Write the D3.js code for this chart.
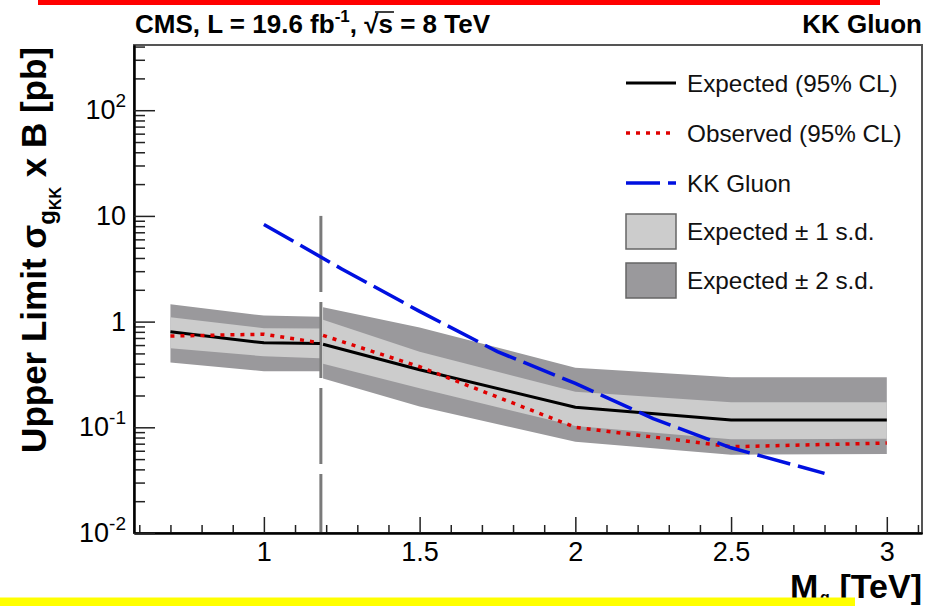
<!DOCTYPE html>
<html>
<head>
<meta charset="utf-8">
<script src="https://cdn.jsdelivr.net/npm/d3@7/dist/d3.min.js"></script>
<style>
  html, body { margin: 0; padding: 0; background: #ffffff; }
  svg { display: block; font-family: "Liberation Sans", Arial, Helvetica, sans-serif; }
</style>
</head>
<body>
<svg id="chart" width="940" height="606"></svg>
<script>
// ---- data: 95% CL limits on sigma(g_KK) x B, in pb, vs mass in TeV ----
// low-mass analysis
const massLow   = [0.70, 1.00, 1.18];
const expLow    = [0.80, 0.63, 0.62];
const obsLow    = [0.73, 0.76, 0.63];
const sig1LoLow = [0.56, 0.47, 0.45];
const sig1HiLow = [1.10, 0.865, 0.86];
const sig2LoLow = [0.41, 0.34, 0.34];
const sig2HiLow = [1.46, 1.14, 1.11];

// high-mass analysis
const massHigh   = [1.19, 1.50, 2.00, 2.50, 3.00];
const expHigh    = [0.61, 0.35, 0.155, 0.117, 0.117];
const obsHigh    = [0.74, 0.374, 0.100, 0.0655, 0.071];
const sig1LoHigh = [0.40, 0.234, 0.103, 0.077, 0.078];
const sig1HiHigh = [1.04, 0.52, 0.217, 0.173, 0.173];
const sig2LoHigh = [0.29, 0.157, 0.073, 0.055, 0.056];
const sig2HiHigh = [1.37, 0.88, 0.366, 0.297, 0.297];

// KK gluon theory cross section x B
const massKK = [1.00, 1.25, 1.50, 1.75, 2.00, 2.25, 2.50, 2.80];
const xsecKK = [8.3, 3.15, 1.25, 0.52, 0.26, 0.121, 0.064, 0.0367];

// boundary between the two analyses
const splitMass = [1.183];
const splitTop = [10];

// axis ticks
const xMajor = [1.0, 1.5, 2.0, 2.5, 3.0];
const xMajorLabels = ["1", "1.5", "2", "2.5", "3"];
const yMajor = [0.01, 0.1, 1, 10, 100];
const yMajorLabels = [["10", "-2"], ["10", "-1"], ["1", ""], ["10", ""], ["10", "2"]];

const legendLabels = ["Expected (95% CL)", "Observed (95% CL)", "KK Gluon",
                      "Expected \u00b1 1 s.d.", "Expected \u00b1 2 s.d."];

// ---- layout ----
const svg = d3.select("#chart");
const W = 940, H = 606;
const frame = { left: 134, top: 45, right: 922, bottom: 533 };

const x = d3.scaleLinear().domain([0.583, 3.113]).range([frame.left, frame.right]);
const y = d3.scaleLog().domain([0.01, 414]).range([frame.bottom, frame.top]);

const colors = {
  expected: "#000000",
  observed: "#e00000",
  kk: "#0010e0",
  band1: "#cccccc",
  band2: "#9a999c",
  split: "#7a7a7a"
};

svg.append("rect").attr("width", W).attr("height", H).attr("fill", "#ffffff");

svg.append("clipPath").attr("id", "plotClip")
  .append("rect")
  .attr("x", frame.left).attr("y", frame.top)
  .attr("width", frame.right - frame.left).attr("height", frame.bottom - frame.top);

const plot = svg.append("g").attr("clip-path", "url(#plotClip)");

function zipBand(m, lo, hi) { return m.map((v, i) => ({ m: v, lo: lo[i], hi: hi[i] })); }
function zipLine(m, v) { return m.map((d, i) => ({ m: d, v: v[i] })); }

const area = d3.area().x(d => x(d.m)).y0(d => y(d.lo)).y1(d => y(d.hi));
const line = d3.line().x(d => x(d.m)).y(d => y(d.v));

// ±2 s.d. and ±1 s.d. bands
[[massLow, sig2LoLow, sig2HiLow], [massHigh, sig2LoHigh, sig2HiHigh]].forEach(([m, lo, hi]) => {
  plot.append("path").attr("d", area(zipBand(m, lo, hi))).attr("fill", colors.band2);
});
[[massLow, sig1LoLow, sig1HiLow], [massHigh, sig1LoHigh, sig1HiHigh]].forEach(([m, lo, hi]) => {
  plot.append("path").attr("d", area(zipBand(m, lo, hi))).attr("fill", colors.band1);
});

// vertical dashed separator, dashes counted from its top end
plot.selectAll("line.split").data(splitMass).join("line")
  .attr("class", "split")
  .attr("x1", d => x(d)).attr("x2", d => x(d))
  .attr("y1", (d, i) => y(splitTop[i])).attr("y2", y(0.01))
  .attr("stroke", colors.split).attr("stroke-width", 3)
  .attr("stroke-dasharray", "76,10");

// expected limit
[[massLow, expLow], [massHigh, expHigh]].forEach(([m, v]) => {
  plot.append("path").attr("d", line(zipLine(m, v)))
    .attr("fill", "none").attr("stroke", colors.expected).attr("stroke-width", 3)
    .attr("stroke-linejoin", "round");
});
// observed limit
[[massLow, obsLow], [massHigh, obsHigh]].forEach(([m, v]) => {
  plot.append("path").attr("d", line(zipLine(m, v)))
    .attr("fill", "none").attr("stroke", colors.observed).attr("stroke-width", 3.5)
    .attr("stroke-dasharray", "4,6");
});
// KK gluon prediction
plot.append("path").attr("d", line(zipLine(massKK, xsecKK)))
  .attr("fill", "none").attr("stroke", colors.kk).attr("stroke-width", 3.5)
  .attr("stroke-dasharray", "34,8");

// ---- frame and axes ----
svg.append("rect")
  .attr("x", frame.left).attr("y", frame.top)
  .attr("width", frame.right - frame.left).attr("height", frame.bottom - frame.top)
  .attr("fill", "none").attr("stroke", "#555555").attr("stroke-width", 2);

const xMinor = d3.range(6, 32).map(k => k / 10).filter(v => !xMajor.some(m => Math.abs(m - v) < 1e-6));
const yMinor = [];
[-2, -1, 0, 1, 2].forEach(e => {
  for (let k = 2; k <= 9; k++) {
    const v = k * Math.pow(10, e);
    if (v <= 414) yMinor.push(v);
  }
});

const tickFont = 27;

const gxMinor = svg.append("g").attr("transform", `translate(0,${frame.bottom})`)
  .call(d3.axisBottom(x).tickValues(xMinor).tickSize(-8).tickSizeOuter(0).tickFormat(""));
const gx = svg.append("g").attr("transform", `translate(0,${frame.bottom})`)
  .call(d3.axisBottom(x).tickValues(xMajor).tickSize(-16).tickSizeOuter(0).tickPadding(9)
    .tickFormat((d, i) => xMajorLabels[i]));

const gyMinor = svg.append("g").attr("transform", `translate(${frame.left},0)`)
  .call(d3.axisLeft(y).tickValues(yMinor).tickSize(-11).tickSizeOuter(0).tickFormat(""));
const gy = svg.append("g").attr("transform", `translate(${frame.left},0)`)
  .call(d3.axisLeft(y).tickValues(yMajor).tickSize(-21).tickSizeOuter(0).tickPadding(8)
    .tickFormat(() => ""));

[gxMinor, gx, gyMinor, gy].forEach(g => {
  g.selectAll("path.domain").attr("stroke", "#000").attr("stroke-width", 2);
  g.selectAll(".tick line").attr("stroke", "#222").attr("stroke-width", 1.5);
  g.selectAll("text").attr("font-family", "Liberation Sans, Arial, sans-serif")
    .attr("font-size", tickFont).attr("fill", "#000");
});

// y labels with exponents
gy.selectAll(".tick text").each(function (d, i) {
  const t = d3.select(this);
  const [base, exp] = yMajorLabels[i];
  t.text(null);
  t.append("tspan").text(base);
  if (exp) {
    t.append("tspan").attr("font-size", 19).attr("dy", -12).text(exp);
  }
});

// ---- header ----
const headerFont = 26;
const header = svg.append("g").attr("font-weight", "bold").attr("font-size", headerFont);
(function () {
  let cx = 135;
  const base = 33;
  const put = (str, size, dy) => {
    const t = header.append("text").attr("x", cx).attr("y", base + (dy || 0))
      .attr("font-size", size || headerFont).text(str);
    const w = t.node().getComputedTextLength();
    cx += w;
    return { t, w, x0: cx - w };
  };
  put("CMS, L = 19.6 fb");
  put("-1", 17, -11);
  put(",\u00a0");
  const root = put("\u221a");
  const s = put("s");
  // overline of the square root
  header.append("line")
    .attr("x1", root.x0 + root.w * 0.75).attr("x2", s.x0 + s.w + 1)
    .attr("y1", base - 21).attr("y2", base - 21)
    .attr("stroke", "#000").attr("stroke-width", 1.5);
  put("\u00a0= 8 TeV");
})();
header.append("text").attr("x", 922).attr("y", 33).attr("text-anchor", "end").text("KK Gluon");

// ---- legend ----
const legend = svg.append("g").attr("font-size", 24.3);
const legX0 = 626, legX1 = 676, legTextX = 687;
const legRows = [83, 133, 183, 231.5, 280.5];

legend.append("line").attr("x1", legX0).attr("x2", legX1).attr("y1", legRows[0]).attr("y2", legRows[0])
  .attr("stroke", colors.expected).attr("stroke-width", 3);
legend.append("line").attr("x1", legX0).attr("x2", legX1).attr("y1", legRows[1]).attr("y2", legRows[1])
  .attr("stroke", colors.observed).attr("stroke-width", 3.5).attr("stroke-dasharray", "4,6");
legend.append("line").attr("x1", legX0).attr("x2", legX1).attr("y1", legRows[2]).attr("y2", legRows[2])
  .attr("stroke", colors.kk).attr("stroke-width", 3.5).attr("stroke-dasharray", "34,8");
[[legRows[3], colors.band1], [legRows[4], colors.band2]].forEach(([cy, c]) => {
  legend.append("rect").attr("x", legX0).attr("y", cy - 17.5).attr("width", legX1 - legX0).attr("height", 35)
    .attr("fill", c).attr("stroke", "#666").attr("stroke-width", 1.5);
});
legend.selectAll("text.leg").data(legendLabels).join("text")
  .attr("class", "leg")
  .attr("x", legTextX).attr("y", (d, i) => legRows[i] + 8.5)
  .attr("fill", "#111").text(d => d);

// ---- axis titles ----
const titleFont = 35;
const yTitle = svg.append("text")
  .attr("transform", "translate(46,47) rotate(-90)")
  .attr("text-anchor", "end").attr("font-weight", "bold").attr("font-size", titleFont);
yTitle.append("tspan").text("Upper Limit \u03c3");
yTitle.append("tspan").attr("font-size", 24).attr("dy", 9).text("g");
yTitle.append("tspan").attr("font-size", 16).attr("dy", 6).text("KK");
yTitle.append("tspan").attr("dy", -15).text(" x B [pb]");

// x title: mass symbol with its subscript, then the unit
const xTitle = svg.append("g").attr("font-weight", "bold").attr("font-size", 34);
xTitle.append("text").attr("x", 790).attr("y", 598).text("M");
xTitle.append("text").attr("x", 820).attr("y", 603).attr("font-size", 16).text("g");
xTitle.append("text").attr("x", 828).attr("y", 605).attr("font-size", 7.5).text("KK");
xTitle.append("text").attr("x", 922).attr("y", 598).attr("text-anchor", "end").text("[TeV]");

// ---- page highlight bars ----
svg.append("rect").attr("x", 38).attr("y", 0).attr("width", 842).attr("height", 5).attr("fill", "#ff0000");
svg.append("rect").attr("x", 0).attr("y", 597.5).attr("width", 855).attr("height", 8.5).attr("fill", "#ffff00");
</script>
</body>
</html>
